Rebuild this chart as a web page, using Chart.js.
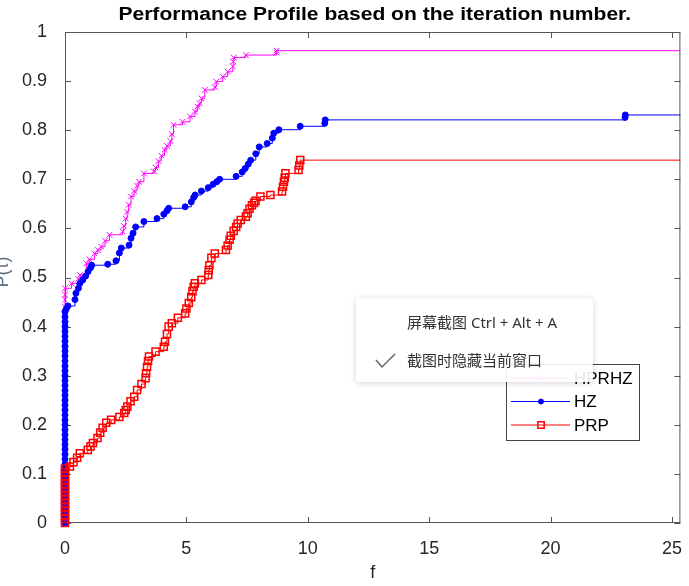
<!DOCTYPE html>
<html>
<head>
<meta charset="utf-8">
<script src="https://cdn.jsdelivr.net/npm/chart.js@4/dist/chart.umd.min.js"></script>
<style>
    body { margin: 0; background: #fff; }
    #wrap { position: relative; width: 689px; height: 586px; }
    .menu {
        position: absolute; left: 356px; top: 298px; width: 237px; height: 84px;
        background: rgba(255, 255, 255, 0.9); border-radius: 4px;
        box-shadow: 0 1px 6px rgba(0, 0, 0, 0.18);
        font: 15px "Noto Sans", "Noto Sans CJK SC", sans-serif; color: #333;
    }
    .menu div { position: absolute; left: 51px; line-height: 22px; white-space: nowrap; }
    .menu svg { position: absolute; left: 19px; top: 55px; }
</style>
</head>
<body>
<div id="wrap">
    <canvas id="perf" width="689" height="586"></canvas>
    <div class="menu">
        <div style="top: 13px;">屏幕截图 Ctrl + Alt + A</div>
        <svg width="22" height="16"><polyline points="1,7 7,14 20,1" fill="none" stroke="#666" stroke-width="1.5"/></svg>
        <div style="top: 51px;">截图时隐藏当前窗口</div>
    </div>
</div>
<script>
const chartTitle = 'Performance Profile based on the iteration number.';
const seriesNames = ['HPRHZ', 'HZ', 'PRP'];
const tauTicks = [0, 5, 10, 15, 20, 25];
const pTicks = [0, 0.1, 0.2, 0.3, 0.4, 0.5, 0.6, 0.7, 0.8, 0.9, 1];

const hprhzTau = [0, 0, 0, 0, 0, 0, 0, 0, 0, 0, 0, 0, 0,
    0.27, 0.55, 0.62, 0.88, 1.0, 1.22, 1.35, 1.49, 1.65, 1.83,
    2.37, 2.42, 2.5, 2.56, 2.62, 2.72, 2.85, 2.97, 3.05, 3.25,
    3.66, 3.73, 3.85, 3.97, 4.1, 4.2, 4.34, 4.4, 4.47, 4.84,
    5.15, 5.35, 5.45, 5.55, 5.62, 5.76, 6.17, 6.23, 6.5, 6.7,
    6.91, 6.93, 6.95, 7.45, 8.71, 8.72, 26];
const hprhzP = [0, 0.05, 0.1, 0.15, 0.2, 0.25, 0.3, 0.35, 0.4, 0.44, 0.455, 0.465, 0.478,
    0.488, 0.497, 0.505, 0.529, 0.537, 0.549, 0.556, 0.563, 0.575, 0.587,
    0.594, 0.605, 0.62, 0.634, 0.648, 0.665, 0.676, 0.687, 0.695, 0.712,
    0.716, 0.724, 0.737, 0.748, 0.76, 0.768, 0.778, 0.792, 0.811, 0.817,
    0.828, 0.838, 0.848, 0.855, 0.865, 0.882, 0.888, 0.899, 0.909, 0.919,
    0.93, 0.94, 0.948, 0.953, 0.958, 0.962, 0.962];

const hzTau = [0, 0, 0, 0, 0, 0, 0, 0, 0, 0, 0, 0, 0, 0, 0, 0, 0, 0, 0, 0, 0, 0,
    0, 0, 0, 0, 0, 0, 0, 0, 0, 0, 0, 0, 0, 0, 0, 0, 0, 0, 0, 0, 0, 0,
    0.05, 0.12, 0.41, 0.45, 0.55, 0.61, 0.73, 0.85, 0.95, 1.05,
    1.1, 1.76, 2.1, 2.24, 2.32, 2.64, 2.72, 2.8, 2.91, 3.25,
    3.79, 4.07, 4.2, 4.27, 4.95, 5.2, 5.3, 5.36, 5.62, 5.9,
    6.1, 6.25, 6.37, 7.05, 7.3, 7.42, 7.55, 7.65, 7.86, 8.0,
    8.33, 8.54, 8.6, 8.81, 9.69, 10.7, 10.72, 23.07, 23.08, 26];
const hzP = [0, 0.01, 0.02, 0.03, 0.04, 0.05, 0.06, 0.07, 0.08, 0.09, 0.1, 0.11, 0.12, 0.13, 0.14,
    0.15, 0.16, 0.17, 0.18, 0.19, 0.2, 0.21, 0.22, 0.23, 0.24, 0.25, 0.26, 0.27, 0.28, 0.29,
    0.3, 0.31, 0.32, 0.33, 0.34, 0.35, 0.36, 0.37, 0.38, 0.39, 0.4, 0.41, 0.42, 0.43,
    0.436, 0.442, 0.455, 0.468, 0.478, 0.488, 0.495, 0.503, 0.512, 0.52,
    0.525, 0.527, 0.534, 0.55, 0.56, 0.566, 0.58, 0.59, 0.603, 0.614,
    0.62, 0.629, 0.636, 0.641, 0.644, 0.654, 0.663, 0.668, 0.676, 0.683,
    0.69, 0.695, 0.7, 0.706, 0.715, 0.722, 0.731, 0.739, 0.752, 0.766,
    0.773, 0.784, 0.794, 0.801, 0.808, 0.814, 0.821, 0.826, 0.831, 0.831];

const prpTau = [0, 0, 0, 0, 0, 0, 0, 0, 0, 0, 0, 0, 0, 0, 0,
    0.2, 0.35, 0.5, 0.61, 0.94, 1.05, 1.15, 1.34, 1.45, 1.55,
    1.7, 1.9, 2.24, 2.44, 2.5, 2.57, 2.7, 2.85, 2.97, 3.15,
    3.32, 3.34, 3.38, 3.42, 3.46, 3.73, 4.07, 4.12, 4.2, 4.27,
    4.4, 4.65, 4.95, 5.0, 5.1, 5.2, 5.25, 5.3, 5.35, 5.62,
    5.9, 5.92, 5.95, 6.03, 6.17, 6.63, 6.7, 6.78, 6.83, 6.95,
    7.05, 7.11, 7.24, 7.45, 7.52, 7.6, 7.7, 7.79, 7.85, 8.05,
    8.46, 8.94, 8.98, 9.02, 9.05, 9.08, 9.62, 9.65, 9.69, 26];
const prpP = [0, 0.008, 0.016, 0.024, 0.032, 0.04, 0.048, 0.056, 0.064, 0.072, 0.08, 0.088, 0.096, 0.104, 0.111,
    0.115, 0.124, 0.133, 0.142, 0.149, 0.156, 0.163, 0.173, 0.184, 0.194,
    0.204, 0.21, 0.216, 0.224, 0.23, 0.237, 0.248, 0.257, 0.271, 0.283,
    0.295, 0.305, 0.318, 0.33, 0.339, 0.349, 0.359, 0.369, 0.385, 0.4,
    0.407, 0.418, 0.427, 0.437, 0.448, 0.46, 0.472, 0.481, 0.488, 0.495,
    0.505, 0.515, 0.525, 0.54, 0.549, 0.556, 0.565, 0.577, 0.585, 0.595,
    0.603, 0.61, 0.617, 0.624, 0.631, 0.64, 0.647, 0.652, 0.656, 0.665,
    0.668, 0.675, 0.685, 0.695, 0.703, 0.712, 0.719, 0.728, 0.739, 0.739];

const family = '"Liberation Sans", Arial, sans-serif';
const toPoints = (tau, p) => tau.map((t, i) => ({x: t, y: p[i]}));
const markClip = { left: 8, top: 6, right: 0, bottom: 8 };

let frame = {
    id: 'frame',
    beforeDatasetsDraw(chart) {
        const {ctx, chartArea: a, scales} = chart;
        ctx.save();
        ctx.strokeStyle = '#555';
        ctx.lineWidth = 1;
        ctx.strokeRect(a.left + 0.5, a.top + 0.5, a.width - 1, a.height - 1);
        ctx.beginPath();
        tauTicks.forEach(v => {
            const px = Math.round(scales.x.getPixelForValue(v)) + 0.5;
            ctx.moveTo(px, a.bottom); ctx.lineTo(px, a.bottom - 6);
            ctx.moveTo(px, a.top); ctx.lineTo(px, a.top + 6);
        });
        pTicks.forEach(v => {
            const py = Math.round(scales.y.getPixelForValue(v)) + 0.5;
            ctx.moveTo(a.left, py); ctx.lineTo(a.left + 6, py);
            ctx.moveTo(a.right, py); ctx.lineTo(a.right - 6, py);
        });
        ctx.stroke();

        // title is a little wider than plain Arial bold
        ctx.save();
        ctx.fillStyle = '#000';
        ctx.font = 'bold 18px ' + family;
        ctx.textAlign = 'center';
        ctx.textBaseline = 'middle';
        ctx.translate((a.left + a.right) / 2 + 2, 15);
        ctx.scale(1.17, 1);
        ctx.fillText(chartTitle, 0, 0);
        ctx.restore();

        ctx.translate(3, 272);
        ctx.rotate(-Math.PI / 2);
        ctx.font = '18px ' + family;
        ctx.textAlign = 'center';
        ctx.textBaseline = 'middle';
        ctx.fillStyle = '#5b6b80';
        ctx.fillText('P(τ)', 0, 0);
        ctx.restore();
    },
    afterDraw(chart) {
        const ctx = chart.ctx;
        ctx.save();
        ctx.fillStyle = '#fff';
        ctx.fillRect(506, 364, 133, 76);
        ctx.strokeStyle = '#444';
        ctx.lineWidth = 1;
        ctx.strokeRect(506.5, 364.5, 133, 76);
        ctx.font = '17px ' + family;
        ctx.textBaseline = 'middle';
        chart.data.datasets.forEach((ds, i) => {
            const yy = 378 + i * 23.5;
            ctx.strokeStyle = ds.borderColor;
            ctx.lineWidth = 1;
            ctx.beginPath();
            ctx.moveTo(511, yy); ctx.lineTo(570, yy);
            ctx.stroke();
            ctx.fillStyle = ds.pointBackgroundColor;
            ctx.lineWidth = ds.pointBorderWidth;
            let r = ds.pointStyle === 'rect' ? 4.5 : ds.pointRadius - 0.5;
            Chart.helpers.drawPoint(ctx, {pointStyle: ds.pointStyle, radius: r, borderWidth: ds.pointBorderWidth, rotation: 0}, 541, yy);
            ctx.fillStyle = '#000';
            ctx.fillText(ds.label, 574, yy + 1);
        });
        ctx.restore();
    }
};

let perfCanvas = document.getElementById('perf');
let perf = new Chart(perfCanvas, {
    type: 'line',
    data: {
        datasets: [
            {
                label: seriesNames[0],
                data: toPoints(hprhzTau, hprhzP),
                borderColor: '#ff00ff',
                borderWidth: 1,
                stepped: 'before',
                pointStyle: 'crossRot',
                pointRadius: 4,
                pointBorderWidth: 1,
                pointBorderColor: '#ff00ff',
                pointBackgroundColor: '#ff00ff',
                clip: markClip,
                order: 2,
            },
            {
                label: seriesNames[1],
                data: toPoints(hzTau, hzP),
                borderColor: '#0000ff',
                borderWidth: 1,
                stepped: 'before',
                pointStyle: 'circle',
                pointRadius: 3,
                pointBorderWidth: 1,
                pointBorderColor: '#0000ff',
                pointBackgroundColor: '#0000ff',
                clip: markClip,
                order: 1,
            },
            {
                label: seriesNames[2],
                data: toPoints(prpTau, prpP),
                borderColor: '#ff0000',
                borderWidth: 1,
                stepped: 'before',
                pointStyle: 'rect',
                pointRadius: 5,
                pointBorderWidth: 1.5,
                pointBorderColor: '#ff0000',
                pointBackgroundColor: 'rgba(255,255,255,0)',
                clip: markClip,
                order: 0,
            },
        ],
    },
    options: {
        responsive: false,
        animation: false,
        events: [],
        layout: { padding: { top: 32, right: 1 } },
        plugins: {
            legend: { display: false },
            tooltip: { enabled: false },
        },
        scales: {
            x: {
                type: 'linear',
                min: 0,
                max: 25.35,
                afterFit: s => { s.height = 63; },
                afterBuildTicks: s => { s.ticks = tauTicks.map(v => ({value: v})); },
                grid: { display: false },
                border: { display: false },
                ticks: { font: { size: 18, family: family }, color: '#262626', padding: 7, maxRotation: 0, callback: v => String(v) },
                title: { display: true, text: 'f', font: { size: 18, family: family }, color: '#262626', padding: { top: 0, bottom: 2 } },
            },
            y: {
                type: 'linear',
                min: 0,
                max: 1,
                afterFit: s => { s.width = 65; },
                afterBuildTicks: s => { s.ticks = pTicks.map(v => ({value: v})); },
                grid: { display: false },
                border: { display: false },
                ticks: { font: { size: 18, family: family }, color: '#262626', padding: 10, callback: v => String(v) },
            },
        },
    },
    plugins: [frame],
});
</script>
</body>
</html>
